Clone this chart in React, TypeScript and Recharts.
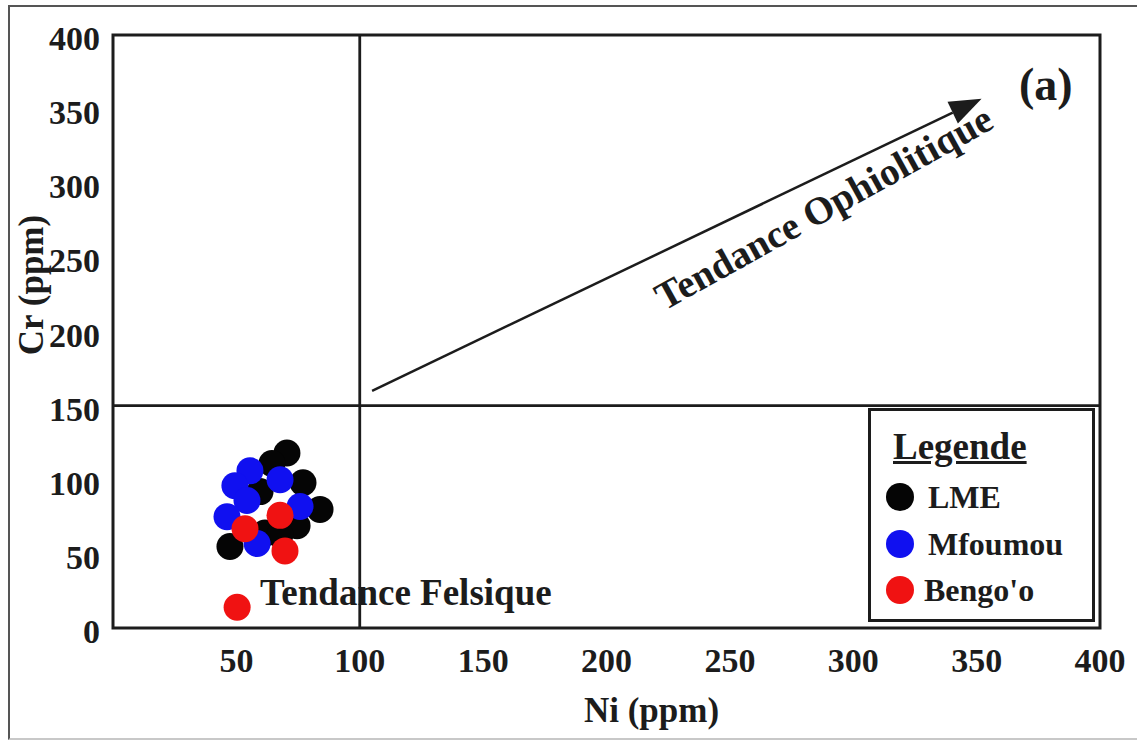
import React from "react";
import {
  Legend,
  ReferenceArea,
  ReferenceDot,
  ReferenceLine,
  Scatter,
  ScatterChart,
  XAxis,
  YAxis,
} from "recharts";

// Diagramme Cr vs Ni (ppm) — LME / Mfoumou / Bengo'o

const X_TICKS = [50, 100, 150, 200, 250, 300, 350, 400];
const Y_TICKS = [0, 50, 100, 150, 200, 250, 300, 350, 400];

const lme = [
  { ni: 70.5, cr: 118 },
  { ni: 64.4, cr: 111 },
  { ni: 77, cr: 98 },
  { ni: 59.6, cr: 92 },
  { ni: 83.9, cr: 80 },
  { ni: 74.6, cr: 69 },
  { ni: 61.6, cr: 64 },
  { ni: 67.7, cr: 63 },
  { ni: 47.4, cr: 55 },
];

const mfoumou = [
  { ni: 55.5, cr: 106 },
  { ni: 49.4, cr: 96 },
  { ni: 67.7, cr: 100 },
  { ni: 54.3, cr: 86 },
  { ni: 46.2, cr: 75 },
  { ni: 75.8, cr: 82 },
  { ni: 58.4, cr: 57 },
];

const bengoo = [
  { ni: 53.5, cr: 67 },
  { ni: 67.7, cr: 76 },
  { ni: 69.7, cr: 52 },
  { ni: 50.3, cr: 14 },
];

const SERIES = [
  { name: "LME", color: "#050505", data: lme },
  { name: "Mfoumou", color: "#1010f0", data: mfoumou },
  { name: "Bengo'o", color: "#f01212", data: bengoo },
];

// limites et flèche de tendance (en ppm)
const NI_LIMIT = 100;
const CR_LIMIT = 150;
const ARROW_FROM = { x: 105, y: 160 };
const ARROW_TO = { x: 352, y: 357 };

const FONT = '"Liberation Serif", "Times New Roman", serif';
const INK = "#1c1c1c";

const W = 1137;
const H = 740;

function Dot({ cx, cy, fill }: any) {
  if (cx == null || cy == null) return null;
  return <circle cx={cx} cy={cy} r={13.5} fill={fill} />;
}

function ArrowShape({ x1, y1, x2, y2 }: any) {
  const a = Math.atan2(y2 - y1, x2 - x1);
  const len = 32;
  const half = 12;
  const bx = x2 - len * Math.cos(a);
  const by = y2 - len * Math.sin(a);
  const px = -Math.sin(a) * half;
  const py = Math.cos(a) * half;
  return (
    <g>
      <line x1={x1} y1={y1} x2={bx} y2={by} stroke={INK} strokeWidth={2.5} />
      <polygon points={`${x2},${y2} ${bx + px},${by + py} ${bx - px},${by - py}`} fill={INK} />
    </g>
  );
}

function XTick({ x, y, payload }: any) {
  return (
    <text x={x} y={y} dy={24} textAnchor="middle" fill={INK} fontFamily={FONT} fontWeight="bold" fontSize={34}>
      {payload.value}
    </text>
  );
}

function YTick({ x, y, payload }: any) {
  return (
    <text x={x} y={y} dy={15} textAnchor="end" fill={INK} fontFamily={FONT} fontWeight="bold" fontSize={34}>
      {payload.value}
    </text>
  );
}

function LegendBox({ payload }: any) {
  const items = SERIES.map((s) => {
    const p = (payload ?? []).find((e: any) => e.value === s.name);
    return { name: s.name, color: p?.color ?? s.color };
  });
  return (
    <div
      style={{
        position: "relative",
        width: 227,
        height: 214,
        boxSizing: "border-box",
        border: `3px solid ${INK}`,
        background: "#fff",
        fontFamily: FONT,
        fontWeight: "bold",
        color: INK,
      }}
    >
      <div style={{ position: "absolute", left: 22, top: 16, fontSize: 37, lineHeight: "40px", textDecoration: "underline" }}>
        Legende
      </div>
      {items.map((it, i) => (
        <div key={it.name} style={{ position: "absolute", left: 15, top: 69 + i * 46.5, height: 34, display: "flex", alignItems: "center" }}>
          <span style={{ width: 28, height: 28, borderRadius: "50%", background: it.color, display: "inline-block" }} />
          <span style={{ marginLeft: i === 2 ? 10 : 14, fontSize: 32, lineHeight: "34px" }}>{it.name}</span>
        </div>
      ))}
    </div>
  );
}

export default function App() {
  return (
    <div style={{ position: "absolute", left: 0, top: 0, width: W, height: H, overflow: "hidden", background: "#fff" }}>
      <div
        style={{
          position: "absolute",
          left: 8,
          top: 5,
          width: 1200,
          height: 731,
          borderTop: "2px solid #555",
          borderLeft: "2px solid #555",
          borderBottom: "2px solid #c8c8c8",
        }}
      />
      <div style={{ position: "absolute", left: 0, top: 0 }}>
        <ScatterChart width={W} height={H} margin={{ top: 35, right: 37, bottom: 52, left: 13 }}>
          <XAxis
            type="number"
            dataKey="ni"
            domain={[0, 400]}
            ticks={X_TICKS}
            axisLine={false}
            tickLine={false}
            tickSize={0}
            tickMargin={20}
            height={60}
            tick={<XTick />}
            label={{
              content: ({ viewBox }: any) => (
                <text
                  x={viewBox.x + viewBox.width / 2 + 45}
                  y={viewBox.y + 94}
                  textAnchor="middle"
                  fill={INK}
                  fontFamily={FONT}
                  fontWeight="bold"
                  fontSize={35}
                >
                  Ni (ppm)
                </text>
              ),
            }}
          />
          <YAxis
            type="number"
            dataKey="cr"
            domain={[0, 400]}
            ticks={Y_TICKS}
            axisLine={false}
            tickLine={false}
            tickSize={0}
            tickMargin={13}
            width={100}
            tick={<YTick />}
            label={{
              content: ({ viewBox }: any) => {
                const cx = viewBox.x + 19;
                const cy = viewBox.y + 250;
                return (
                  <text
                    x={cx}
                    y={cy}
                    dy={11}
                    transform={`rotate(-90 ${cx} ${cy})`}
                    textAnchor="middle"
                    fill={INK}
                    fontFamily={FONT}
                    fontWeight="bold"
                    fontSize={35}
                  >
                    Cr (ppm)
                  </text>
                );
              },
            }}
          />
          <ReferenceArea x1={0} x2={400} y1={0} y2={400} fill="none" stroke={INK} strokeWidth={3} />
          <ReferenceLine x={NI_LIMIT} stroke={INK} strokeWidth={2.8} />
          <ReferenceLine y={CR_LIMIT} stroke={INK} strokeWidth={2.8} />
          <ReferenceLine segment={[ARROW_FROM, ARROW_TO]} shape={<ArrowShape />} />
          <ReferenceDot
            x={288}
            y={283.5}
            r={0}
            shape={({ cx, cy }: any) => (
              <text
                x={cx}
                y={cy}
                dy={13}
                transform={`rotate(-29 ${cx} ${cy})`}
                textAnchor="middle"
                fill={INK}
                fontFamily={FONT}
                fontWeight="bold"
                fontSize={39}
              >
                Tendance Ophiolitique
              </text>
            )}
          />
          <ReferenceDot
            x={59.6}
            y={15.5}
            r={0}
            shape={({ cx, cy }: any) => (
              <text x={cx} y={cy} fill={INK} fontFamily={FONT} fontWeight="bold" fontSize={37}>
                Tendance Felsique
              </text>
            )}
          />
          <ReferenceDot
            x={378}
            y={356}
            r={0}
            shape={({ cx, cy }: any) => (
              <text x={cx} y={cy} textAnchor="middle" fill={INK} fontFamily={FONT} fontWeight="bold" fontSize={46}>
                (a)
              </text>
            )}
          />
          {SERIES.map((s) => (
            <Scatter
              key={s.name}
              name={s.name}
              data={s.data}
              fill={s.color}
              shape={<Dot fill={s.color} />}
              isAnimationActive={false}
            />
          ))}
          <Legend
            layout="horizontal"
            align="center"
            verticalAlign="middle"
            content={<LegendBox />}
            wrapperStyle={{ left: 868, top: 408, width: 227, height: 214 }}
          />
        </ScatterChart>
      </div>
    </div>
  );
}
